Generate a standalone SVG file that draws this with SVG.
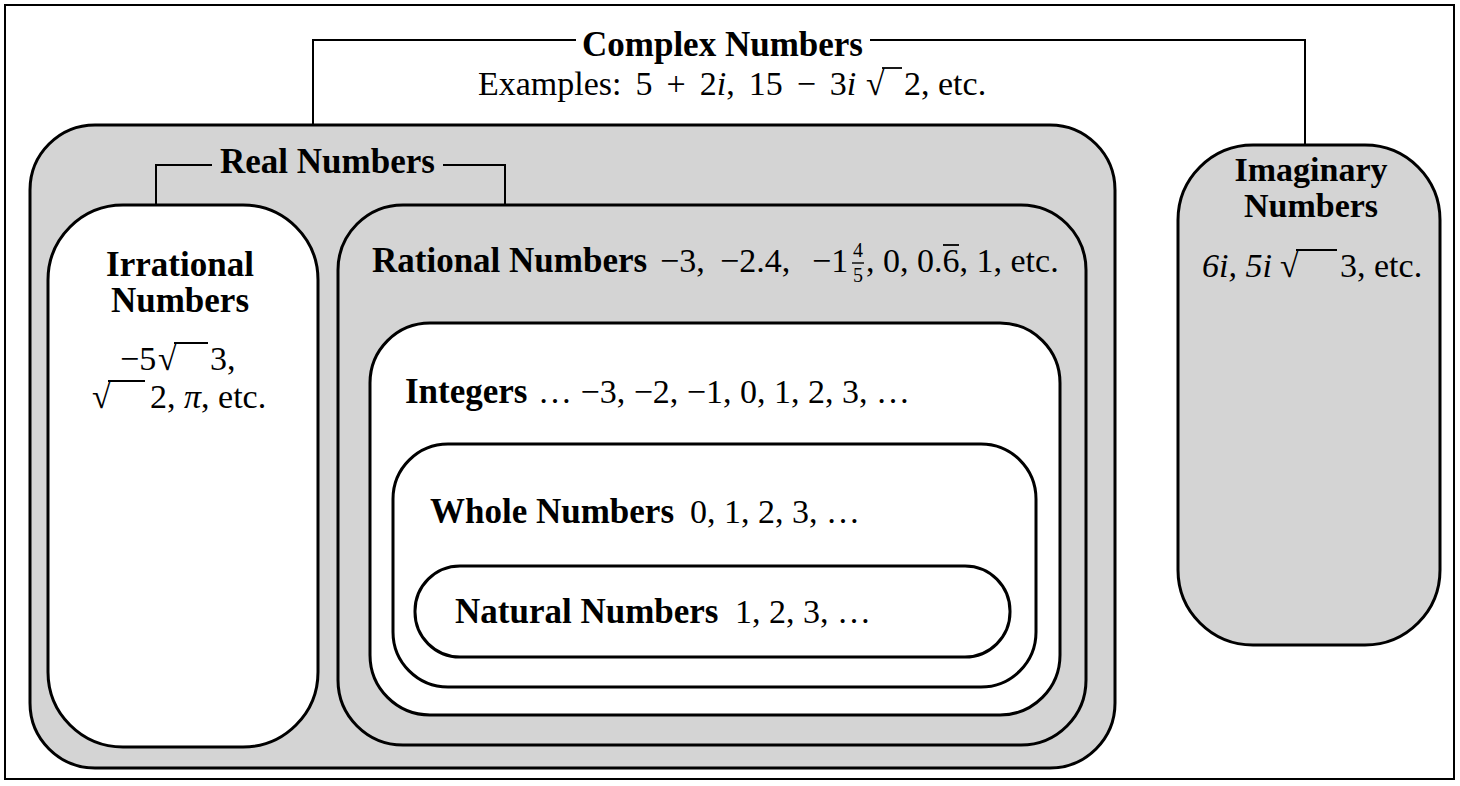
<svg xmlns="http://www.w3.org/2000/svg" width="1460" height="786" viewBox="0 0 1460 786">
<style>
.t{font-family:"Liberation Serif","Times New Roman",serif;font-size:34px;fill:#000}
.b{font-weight:bold;font-size:35px}
.i{font-style:italic}
.sm{font-size:20px}
.box{stroke:#000;stroke-width:3}
.sh{fill:#d4d4d4}
.wh{fill:#fff}
.ln{fill:none;stroke:#000;stroke-width:2}
.vin{stroke:#000;stroke-width:1.8}
</style>
<rect x="0" y="0" width="1460" height="786" fill="#fff"/>
<rect x="5" y="5" width="1449" height="774" fill="none" stroke="#000" stroke-width="2"/>
<g id="complex">
<text class="t b" x="582" y="56">Complex Numbers</text>
<text class="t" x="478" y="95" style="word-spacing:5.5px">Examples: 5 + 2<tspan class="i">i</tspan>, 15 − 3<tspan class="i">i</tspan></text>
<text class="t" x="866" y="95">√</text>
<line class="vin" x1="882" y1="68" x2="902" y2="68"/>
<text class="t" x="904" y="95">2, etc.</text>
</g>
<g id="real">
<rect class="box sh" x="30" y="125" width="1085" height="643" rx="65"/>
<text class="t b" x="220" y="173">Real Numbers</text>
</g>
<g id="imaginary">
<rect class="box sh" x="1178" y="145" width="262" height="500" rx="75"/>
<text class="t b" x="1311" y="181" text-anchor="middle" style="font-size:34px">Imaginary</text>
<text class="t b" x="1311" y="217" text-anchor="middle" style="font-size:34px">Numbers</text>
<text class="t i" x="1202" y="277">6i, 5i</text>
<text class="t" x="1280" y="277">√</text>
<line class="vin" x1="1296" y1="250" x2="1337" y2="250"/>
<text class="t" x="1340" y="277">3, etc.</text>
</g>
<g id="irrational">
<rect class="box wh" x="48" y="205" width="270" height="542" rx="75"/>
<text class="t b" x="180" y="276" text-anchor="middle">Irrational</text>
<text class="t b" x="180" y="312" text-anchor="middle">Numbers</text>
<text class="t" x="120" y="370">−5</text>
<text class="t" x="158" y="370">√</text>
<line class="vin" x1="174" y1="343" x2="208" y2="343"/>
<text class="t" x="210" y="370">3,</text>
<text class="t" x="92" y="408">√</text>
<line class="vin" x1="108" y1="381" x2="145" y2="381"/>
<text class="t" x="150" y="408">2, <tspan class="i">π</tspan>, etc.</text>
</g>
<g id="rational">
<rect class="box sh" x="338" y="205" width="748" height="540" rx="65"/>
<text class="t b" x="372" y="272">Rational Numbers</text>
<text class="t" x="660" y="272">−3,</text>
<text class="t" x="720" y="272">−2.4,</text>
<text class="t" x="812" y="272">−1</text>
<text class="t sm" x="853" y="257">4</text>
<line x1="852" y1="263" x2="864" y2="263" stroke="#000" stroke-width="1.4"/>
<text class="t sm" x="853" y="282">5</text>
<text class="t" x="866" y="272">, 0, 0.6, 1, etc.</text>
<line class="vin" x1="943" y1="245" x2="959" y2="245"/>
</g>
<g id="integers">
<rect class="box wh" x="370" y="323" width="690" height="392" rx="60"/>
<text class="t b" x="405" y="403">Integers</text>
<text class="t" x="538" y="403">… −3, −2, −1, 0, 1, 2, 3, …</text>
</g>
<g id="whole">
<rect class="box wh" x="393" y="444" width="643" height="243" rx="55"/>
<text class="t b" x="430" y="523">Whole Numbers</text>
<text class="t" x="690" y="523">0, 1, 2, 3, …</text>
</g>
<g id="natural">
<rect class="box wh" x="415" y="566" width="595" height="91" rx="45"/>
<text class="t b" x="455" y="623">Natural Numbers</text>
<text class="t" x="735" y="623">1, 2, 3, …</text>
</g>
<g id="connectors">
<polyline class="ln" points="313,125 313,40 576,40"/>
<polyline class="ln" points="870,40 1305,40 1305,145"/>
<polyline class="ln" points="156,205 156,165 212,165"/>
<polyline class="ln" points="443,165 505,165 505,205"/>
</g>
</svg>
